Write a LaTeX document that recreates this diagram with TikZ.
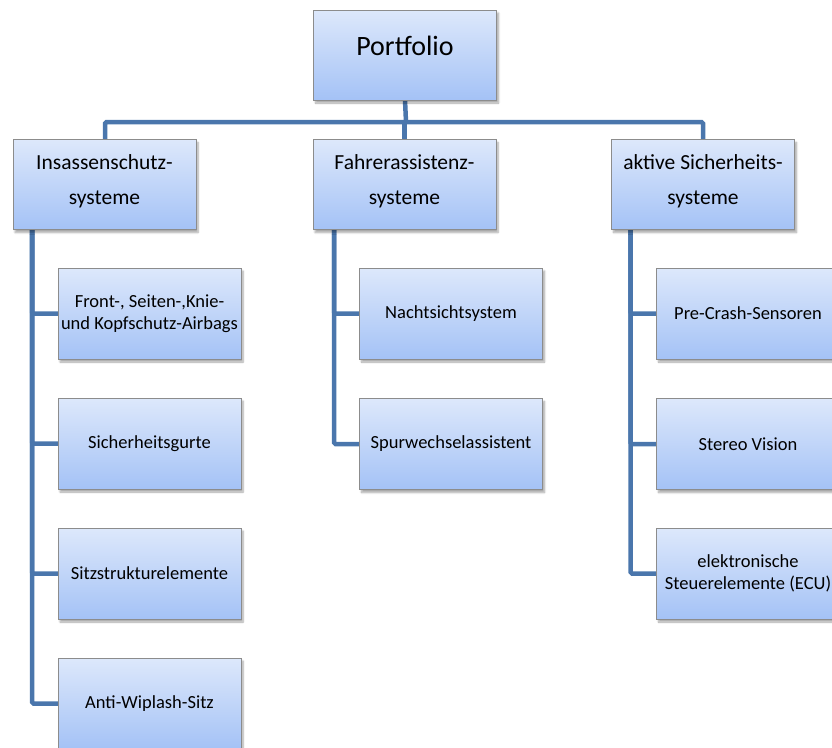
\documentclass[tikz,border=0pt]{standalone}
\usepackage{fontspec}
\setmainfont{Carlito}
\usetikzlibrary{shadows.blur,backgrounds,calc}
\definecolor{linkblue}{HTML}{4A76AC}
\definecolor{boxtop}{HTML}{DDE8FB}
\definecolor{boxbottom}{HTML}{A4C2F6}
\definecolor{boxedge}{HTML}{8C8C8C}
\tikzset{
  box/.style={draw=boxedge, line width=0.8pt, top color=boxtop, bottom color=boxbottom,
    minimum width=183pt, inner sep=0pt, outer sep=0pt, align=center,
    blur shadow={shadow xshift=2pt, shadow yshift=-3pt, shadow blur steps=6, shadow opacity=35}},
  rootbox/.style={box, minimum height=90pt, font=\fontsize{28}{30}\selectfont,
    text height=19pt, text depth=19pt},
  groupbox/.style={box, minimum height=90pt, font=\fontsize{21.5}{36}\selectfont},
  leafbox/.style={box, minimum height=91pt, font=\fontsize{18.5}{22}\selectfont},
  link/.style={draw=linkblue, line width=4.5pt, rounded corners=1.5pt}
}
\begin{document}
\begin{tikzpicture}[x=1pt,y=-1pt]
\useasboundingbox (0,0) rectangle (832,747);
\clip (0,0) rectangle (832,747);

% root
\node[rootbox] (port) at (405,55) {Portfolio};

% second level
\node[groupbox] (ins) at (104.5,184.5) {Insassenschutz-\\[-1pt]systeme\rule[-9pt]{0pt}{0pt}};
\node[groupbox] (fah) at (404.5,184.5) {Fahrerassistenz-\\[-1pt]systeme\rule[-9pt]{0pt}{0pt}};
\node[groupbox] (akt) at (703,184.5) {aktive Sicherheits-\\[-1pt]systeme\rule[-9pt]{0pt}{0pt}};

% leaves: Insassenschutz
\node[leafbox] (airbag) at (149.5,313.5) {Front-, Seiten-,Knie-\\und Kopfschutz-Airbags};
\node[leafbox] (gurt)   at (149.5,443.5) {Sicherheitsgurte};
\node[leafbox] (sitz)   at (149.5,573.5) {Sitzstrukturelemente};
\node[leafbox] (wip)    at (149.5,703.5) {Anti-Wiplash-Sitz};

% leaves: Fahrerassistenz
\node[leafbox] (nacht)  at (451,313.5) {Nachtsichtsystem};
\node[leafbox] (spur)   at (451,444) {Spurwechselassistent};

% leaves: aktive Sicherheit
\node[leafbox] (pre)    at (748,313.5) {Pre-Crash-Sensoren};
\node[leafbox] (stereo) at (748,444) {Stereo Vision};
\node[leafbox] (ecu)    at (748,573.5) {elektronische\\Steuerelemente (ECU)};

\coordinate (hub) at (406,122);
\coordinate (insdrop) at ($(ins.south west)+(19,0)$);
\coordinate (fahdrop) at ($(fah.south west)+(21,0)$);
\coordinate (aktdrop) at ($(akt.south west)+(19,0)$);

\begin{pgfonlayer}{background}
  \draw[link] (port.south) -- (hub);
  \draw[link] (ins.north -| 105,0) |- (hub) -| (akt.north);
  \draw[link] (fah.north) -- (fah.north |- hub);
  \foreach \c in {airbag,gurt,sitz,wip} \draw[link] (insdrop) |- (\c.west);
  \foreach \c in {nacht,spur} \draw[link] (fahdrop) |- (\c.west);
  \foreach \c in {pre,stereo,ecu} \draw[link] (aktdrop) |- (\c.west);
\end{pgfonlayer}
\end{tikzpicture}
\end{document}
